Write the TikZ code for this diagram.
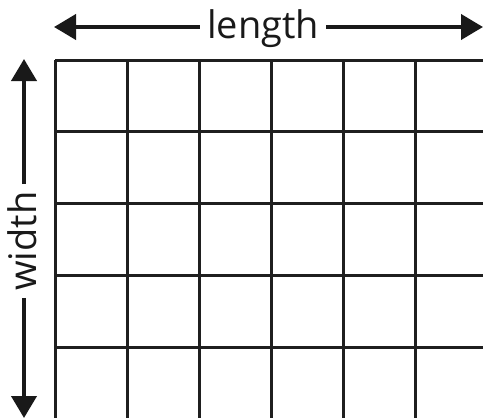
\documentclass[tikz,border=0pt]{standalone}
\usepackage{fontspec}
\setmainfont{Open Sans}
\usetikzlibrary{arrows.meta}
\tikzset{
  gridline/.style={line width=3pt, color=black!88},
  dimarrow/.style={line width=4pt, color=black!90, -{Triangle[length=22pt,width=25pt]}},
  dimlabel/.style={font=\fontsize{38}{38}\selectfont, inner sep=0pt, text=black!90}
}
\begin{document}
\begin{tikzpicture}[x=1pt,y=-1pt]
\useasboundingbox (0,0) rectangle (483,418);
\begin{scope}
\clip (0,0) rectangle (483,418);
\foreach \i in {0,...,6} { \draw[gridline] (55+72*\i,60) -- (55+72*\i,422); }
\foreach \j in {0,...,5} { \draw[gridline] (55,60+71.8*\j) -- (490,60+71.8*\j); }
\end{scope}
% horizontal dimension
\coordinate (hl) at (54,27);
\coordinate (hr) at (483,27);
\node[dimlabel, anchor=base] (len) at (263,38) {length};
\draw[dimarrow] ([xshift=-7pt]len.west |- hl) -- (hl);
\draw[dimarrow] ([xshift=7pt]len.east |- hl) -- (hr);
% vertical dimension
\coordinate (vt) at (24,59);
\coordinate (vb) at (24,418);
\node[dimlabel, anchor=base, rotate=90] (wid) at (37,241) {width};
\draw[dimarrow] ([yshift=7pt]wid.east -| vt) -- (vt);
\draw[dimarrow] ([yshift=-7pt]wid.west -| vb) -- (vb);
\end{tikzpicture}
\end{document}
